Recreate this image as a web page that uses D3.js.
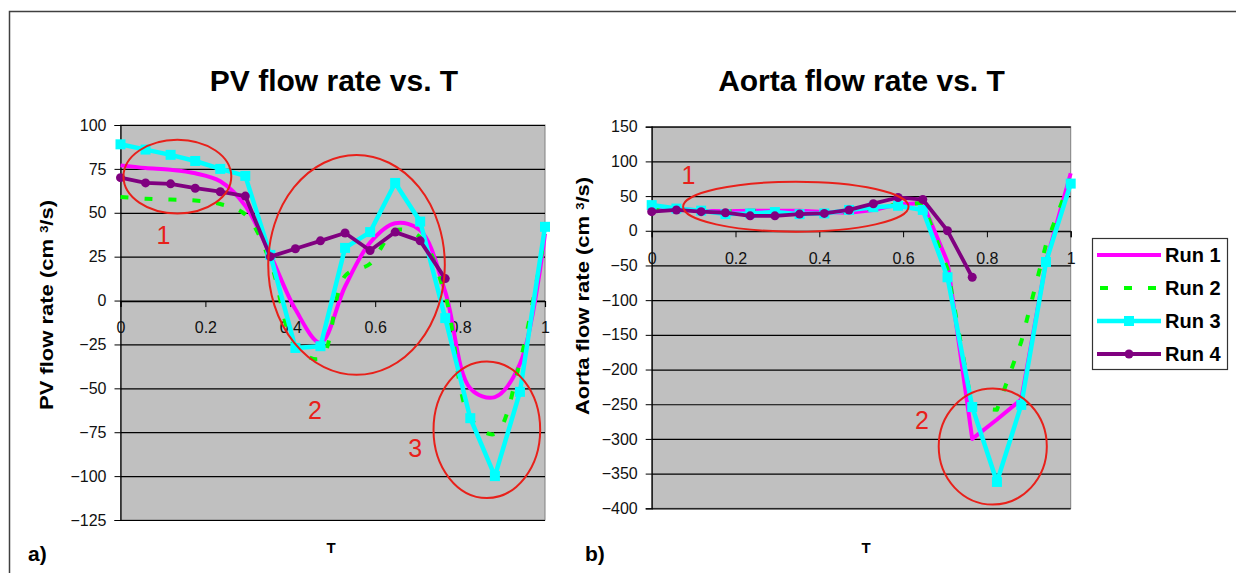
<!DOCTYPE html>
<html><head><meta charset="utf-8">
<script src="https://cdn.jsdelivr.net/npm/d3@7/dist/d3.min.js"></script>
<style>body{margin:0;background:#fff}svg{display:block}</style>
</head><body><svg id="c" width="1236" height="573"></svg>
<script>
// ---------- data ----------
const tValues = [0, 0.059, 0.118, 0.176, 0.235, 0.294, 0.353, 0.412, 0.471, 0.529, 0.588, 0.647, 0.706, 0.765, 0.824, 0.882, 0.941, 1];
const runNames = ["Run 1", "Run 2", "Run 3", "Run 4"];
// PV flow rate (cm^3/s)
const pvRun1 = [77, 75.5, 74.5, 72.5, 68, 54, 26, -5, -24, 8, 33, 44, 40, 5, -50, -55, -36, 38];
const pvRun2 = [59, 58, 57.5, 57, 55, 49, 22, -26, -33, 14, 21, 40, 36, 3, -67, -76, -35, 38];
const pvRun3 = [89, 86, 83, 79.5, 75, 71, 26, -27, -26, 30, 39, 67, 45, -10, -67, -100, -52, 42];
const pvRun4 = [70, 67, 66.5, 64, 62, 59.5, 25, 29.5, 34, 38.5, 28.5, 39, 34, 12.5];
// Aorta flow rate (cm^3/s)
const aoRun1 = [35, 32, 29, 28, 29, 29, 29, 27, 26, 30, 38, 40, -45, -300, -272, -243, -45, 83];
const aoRun2 = [33, 31, 28, 28, 29, 28, 27, 25, 27, 33, 38, 40, -55, -255, -258, -160, -20, 75];
const aoRun3 = [37, 32, 29, 24, 25, 27, 24, 25, 30, 34, 36, 30, -67, -254, -362, -251, -45, 68];
const aoRun4 = [27.5, 30, 27.5, 26, 21.5, 21.5, 24, 25, 30, 39, 48, 45, 0, -67];
// axis ticks
const xTicks = [0, 0.2, 0.4, 0.6, 0.8, 1];
const xTickLabels = ["0", "0.2", "0.4", "0.6", "0.8", "1"];
const pvTicks = [-125, -100, -75, -50, -25, 0, 25, 50, 75, 100];
const aoTicks = [-400, -350, -300, -250, -200, -150, -100, -50, 0, 50, 100, 150];
// annotations (data units): centre, radii, label position
const pvNotes = [
  {label: "1", cx: 0.134, cy: 70.6, rx: 0.127, ry: 21, lx: 0.101, ly: 37.4},
  {label: "2", cx: 0.556, cy: 20.3, rx: 0.208, ry: 62.6, lx: 0.458, ly: -62.3},
  {label: "3", cx: 0.863, cy: -73.6, rx: 0.1256, ry: 38.9, lx: 0.694, ly: -84.1}
];
const aoNotes = [
  {label: "1", cx: 0.344, cy: 34.7, rx: 0.269, ry: 36, lx: 0.0875, ly: 80.4},
  {label: "2", cx: 0.814, cy: -311, rx: 0.129, ry: 83.6, lx: 0.645, ly: -272.6}
];

// ---------- styles ----------
const FONT = "'Liberation Sans', Arial, sans-serif";
const colors = ["#ff00ff", "#00ff00", "#00ffff", "#800080"];
const widths = [4, 4, 4.5, 3.8];
const RED = "#e8201a";

const svg = d3.select("#c");
svg.append("rect").attr("x", 9.5).attr("y", 11.5).attr("width", 1240).attr("height", 600)
  .attr("fill", "#fff").attr("stroke", "#404040").attr("stroke-width", 1.5);

function panel(cfg) {
  const x = d3.scaleLinear().domain([0, 1]).range([cfg.x0, cfg.x1]);
  const y = d3.scaleLinear().domain([cfg.ticks[0], cfg.ticks[cfg.ticks.length - 1]]).range([cfg.yb, cfg.yt]);
  const g = svg.append("g");
  g.append("rect").attr("x", cfg.x0).attr("y", cfg.yt).attr("width", cfg.x1 - cfg.x0).attr("height", cfg.yb - cfg.yt)
    .attr("fill", "#c0c0c0").attr("stroke", "#808080").attr("stroke-width", 1);
  // gridlines
  g.selectAll("line.grid").data(cfg.ticks).join("line").attr("class", "grid")
    .attr("x1", cfg.x0).attr("x2", cfg.x1).attr("y1", d => y(d) + 0.5).attr("y2", d => y(d) + 0.5)
    .attr("stroke", "#000").attr("stroke-width", 1.2);
  // y axis
  const ya = g.append("g").attr("transform", `translate(${cfg.x0},0)`)
    .call(d3.axisLeft(y).tickValues(cfg.ticks).tickSize(6).tickPadding(8));
  ya.select(".domain").attr("stroke", "#000").attr("stroke-width", 1.2);
  ya.selectAll("text").attr("font-family", FONT).attr("font-size", 16).attr("fill", "#111");
  // x axis at zero
  const xa = g.append("g").attr("transform", `translate(0,${y(0) + 0.5})`)
    .call(d3.axisBottom(x).tickValues(xTicks).tickFormat((d, i) => xTickLabels[i]).tickSize(6).tickPadding(15));
  xa.select(".domain").attr("stroke", "#000").attr("stroke-width", 1.2);
  xa.selectAll("text").attr("font-family", FONT).attr("font-size", 16).attr("fill", "#111");

  // series
  cfg.series.forEach((vals, k) => {
    const smooth = cfg.smooth && k < 2;
    const line = d3.line().x((d, i) => x(tValues[i])).y(d => y(d))
      .curve(smooth ? d3.curveCatmullRom.alpha(0.5) : d3.curveLinear);
    const p = g.append("path").attr("d", line(vals)).attr("fill", "none")
      .attr("stroke", colors[k]).attr("stroke-width", widths[k]).attr("stroke-linejoin", "round");
    if (k === 1) p.attr("stroke-dasharray", "8,16");
    if (k === 2) {
      g.selectAll(null).data(vals).join("rect")
        .attr("x", (d, i) => x(tValues[i]) - 5).attr("y", d => y(d) - 5)
        .attr("width", 10).attr("height", 10).attr("fill", colors[2]);
    }
    if (k === 3) {
      g.selectAll(null).data(vals).join("circle")
        .attr("cx", (d, i) => x(tValues[i])).attr("cy", d => y(d)).attr("r", 4.5).attr("fill", colors[3]);
    }
  });

  // annotations
  cfg.notes.forEach(n => {
    g.append("ellipse").attr("cx", x(n.cx)).attr("cy", y(n.cy))
      .attr("rx", x(n.rx) - x(0)).attr("ry", y(0) - y(n.ry))
      .attr("fill", "none").attr("stroke", RED).attr("stroke-width", 2);
    g.append("text").attr("x", x(n.lx)).attr("y", y(n.ly)).attr("dy", "0.36em")
      .attr("text-anchor", "middle").attr("font-family", FONT).attr("font-size", 25)
      .attr("fill", RED).text(n.label);
  });

  // titles
  svg.append("text").attr("x", cfg.titleX).attr("y", 91).attr("text-anchor", "middle")
    .attr("font-family", FONT).attr("font-weight", "bold").attr("font-size", 30).text(cfg.title);
  const yt = svg.append("text").attr("text-anchor", "middle")
    .attr("transform", `translate(${cfg.ytX},${cfg.ytY}) scale(0.8,1) rotate(-90)`)
    .attr("dy", "0.35em")
    .attr("font-family", FONT).attr("font-weight", "bold").attr("font-size", 22);
  yt.append("tspan").text(cfg.yTitle + " (cm ");
  yt.append("tspan").attr("font-size", 13).attr("baseline-shift", "super").text("3");
  yt.append("tspan").text("/s)");
  svg.append("text").attr("x", cfg.xtX).attr("y", 553).attr("text-anchor", "middle")
    .attr("font-family", FONT).attr("font-weight", "bold").attr("font-size", 15).text("T");
  svg.append("text").attr("x", cfg.tagX).attr("y", 561)
    .attr("font-family", FONT).attr("font-weight", "bold").attr("font-size", 21).text(cfg.tag);
}

panel({x0: 120.5, x1: 545, yt: 125, yb: 520, ticks: pvTicks, smooth: true,
  series: [pvRun1, pvRun2, pvRun3, pvRun4], notes: pvNotes,
  title: "PV flow rate vs. T", titleX: 334, yTitle: "PV flow rate", ytX: 47, ytY: 305,
  xtX: 331, tag: "a)", tagX: 28});
panel({x0: 651.7, x1: 1070.7, yt: 126.7, yb: 508.3, ticks: aoTicks, smooth: false,
  series: [aoRun1, aoRun2, aoRun3, aoRun4], notes: aoNotes,
  title: "Aorta flow rate vs. T", titleX: 861.5, yTitle: "Aorta flow rate", ytX: 583, ytY: 296,
  xtX: 866, tag: "b)", tagX: 585});

// legend
const lg = svg.append("g");
lg.append("rect").attr("x", 1092.5).attr("y", 238.5).attr("width", 135).attr("height", 131)
  .attr("fill", "#fff").attr("stroke", "#333").attr("stroke-width", 1.2);
const rowY = d3.scalePoint().domain(runNames).range([255, 354]);
runNames.forEach((name, k) => {
  const yy = rowY(name);
  const l = lg.append("line").attr("x1", 1097).attr("x2", 1161).attr("y1", yy).attr("y2", yy)
    .attr("stroke", colors[k]).attr("stroke-width", widths[k]);
  if (k === 1) l.attr("stroke-dasharray", "8,16").attr("stroke-dashoffset", -3);
  if (k === 2) lg.append("rect").attr("x", 1124).attr("y", yy - 5).attr("width", 10).attr("height", 10).attr("fill", colors[2]);
  if (k === 3) lg.append("circle").attr("cx", 1129).attr("cy", yy).attr("r", 4.5).attr("fill", colors[3]);
  lg.append("text").attr("x", 1165).attr("y", yy).attr("dy", "0.36em")
    .attr("font-family", FONT).attr("font-weight", "bold").attr("font-size", 20).text(name);
});
</script></body></html>
